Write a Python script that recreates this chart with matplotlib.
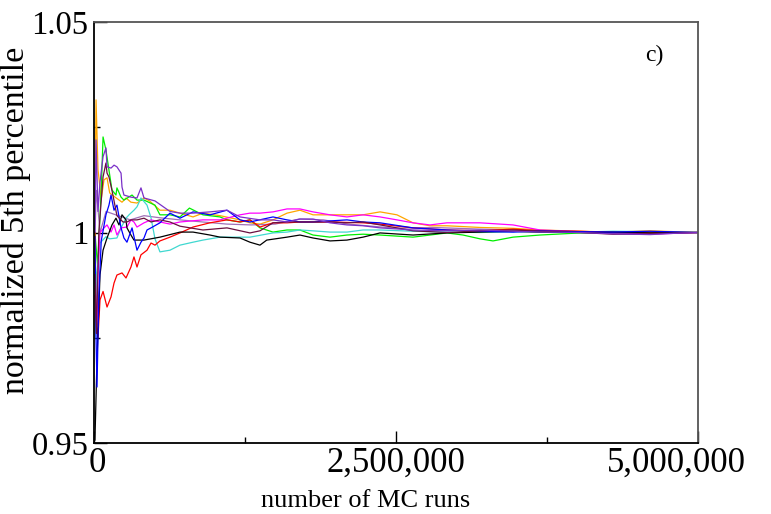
import numpy as np
import matplotlib
matplotlib.use("Agg")
import matplotlib.pyplot as plt
from matplotlib.ticker import FuncFormatter, FixedLocator
from matplotlib.transforms import ScaledTranslation

plt.rcParams['font.family'] = ['Liberation Serif', 'DejaVu Serif']

# MC runs in millions, normalized 5th percentile
orange_x = [0.008, 0.017, 0.033, 0.06, 0.083, 0.108, 0.13, 0.17, 0.232, 0.265, 0.306, 0.356, 0.414, 0.46, 0.546, 0.629, 0.712, 0.82, 0.902, 1.043, 1.209, 1.291, 1.374, 1.482, 1.598, 1.705, 1.813, 1.954, 2.094, 2.227, 2.368, 2.508, 2.641, 2.781, 2.922, 3.195, 3.469, 3.692, 4.023, 4.296, 4.603, 5.0]
orange_y = [1.005, 1.0315, 1.015, 1.008, 1.0125, 1.013, 1.0094, 1.0085, 1.0072, 1.0082, 1.0072, 1.007, 1.0082, 1.0075, 1.0053, 1.0053, 1.0046, 1.0037, 1.0046, 1.004, 1.003, 1.0023, 1.002, 1.003, 1.0046, 1.0053, 1.0042, 1.0042, 1.0042, 1.0042, 1.0049, 1.0042, 1.0023, 1.0016, 1.0016, 1.0012, 1.001, 1.0006, 1.0003, 1.0001, 1.0004, 1.0]

green_x = [0.008, 0.03, 0.06, 0.075, 0.099, 0.124, 0.149, 0.182, 0.19, 0.224, 0.248, 0.315, 0.356, 0.414, 0.505, 0.546, 0.629, 0.712, 0.79, 0.902, 1.043, 1.101, 1.209, 1.291, 1.374, 1.482, 1.598, 1.705, 1.813, 1.954, 2.094, 2.227, 2.368, 2.641, 2.922, 3.055, 3.195, 3.303, 3.469, 3.692, 4.023, 4.296, 4.603, 5.0]
green_y = [1.0, 0.992, 1.01, 1.0227, 1.0196, 1.0148, 1.0101, 1.0089, 1.0106, 1.0084, 1.0077, 1.0089, 1.0077, 1.0077, 1.0065, 1.0042, 1.0042, 1.0037, 1.0058, 1.0042, 1.0037, 1.003, 1.0025, 1.003, 1.0011, 1.0001, 1.0006, 1.0006, 0.9994, 0.9989, 0.9994, 0.9996, 0.9994, 0.9989, 0.9999, 0.9994, 0.9985, 0.998, 0.9989, 0.9994, 0.9999, 0.9998, 1.0001, 1.0]

violet_x = [0.008, 0.017, 0.033, 0.05, 0.075, 0.099, 0.108, 0.141, 0.166, 0.19, 0.224, 0.232, 0.248, 0.306, 0.356, 0.389, 0.414, 0.505, 0.629, 0.712, 0.82, 0.96, 1.101, 1.209, 1.374, 1.482, 1.598, 1.705, 1.813, 1.954, 2.094, 2.227, 2.368, 2.641, 2.922, 3.195, 3.469, 3.692, 4.023, 4.296, 4.603, 4.8, 5.0]
violet_y = [1.0, 1.022, 1.005, 1.012, 1.018, 1.0201, 1.0156, 1.0153, 1.016, 1.0156, 1.0141, 1.0108, 1.0089, 1.0084, 1.0082, 1.0106, 1.0082, 1.0075, 1.005, 1.0046, 1.0046, 1.0049, 1.0053, 1.0037, 1.003, 1.003, 1.0025, 1.0032, 1.0032, 1.0023, 1.0018, 1.0016, 1.0011, 1.0006, 1.0004, 1.0006, 1.0003, 1.0001, 1.0, 0.9997, 0.9995, 0.9998, 1.0]

maroon_x = [0.008, 0.02, 0.04, 0.075, 0.099, 0.108, 0.124, 0.149, 0.19, 0.24, 0.273, 0.306, 0.356, 0.414, 0.472, 0.546, 0.629, 0.712, 0.902, 1.101, 1.291, 1.374, 1.482, 1.598, 1.705, 1.813, 1.954, 2.094, 2.227, 2.368, 2.508, 2.641, 2.922, 3.195, 3.469, 3.692, 4.023, 4.296, 4.603, 5.0]
maroon_y = [0.99, 0.976, 1.0, 1.0132, 1.0165, 1.0141, 1.0132, 1.01, 1.004, 1.0025, 1.0025, 1.003, 1.003, 1.0034, 1.0025, 1.003, 1.0025, 1.0015, 1.0006, 1.0011, 0.9999, 1.0004, 1.0023, 1.0025, 1.0025, 1.0025, 1.0025, 1.0023, 1.0025, 1.0018, 1.0011, 1.0004, 1.0, 1.0004, 1.0006, 1.0003, 1.0, 0.9996, 0.9997, 1.0]

blue_x = [0.008, 0.017, 0.025, 0.04, 0.06, 0.099, 0.124, 0.141, 0.166, 0.19, 0.224, 0.248, 0.273, 0.315, 0.356, 0.389, 0.414, 0.439, 0.472, 0.546, 0.629, 0.712, 0.82, 0.96, 1.101, 1.209, 1.291, 1.482, 1.598, 1.705, 1.813, 2.094, 2.227, 2.368, 2.641, 2.922, 3.195, 3.469, 3.692, 4.023, 4.296, 4.603, 5.0]
blue_y = [0.999, 0.975, 0.9633, 0.985, 0.998, 1.0042, 1.0065, 1.0089, 1.0053, 1.0065, 1.0011, 0.9987, 0.9977, 1.0011, 0.9958, 0.9977, 0.9987, 1.0006, 1.0011, 1.0023, 1.0046, 1.0034, 1.0049, 1.0042, 1.0053, 1.003, 1.0025, 1.0037, 1.003, 1.0025, 1.0025, 1.003, 1.0025, 1.0023, 1.0011, 1.0006, 1.0003, 1.0001, 1.0004, 1.0002, 1.0001, 1.0003, 1.0]

magenta_x = [0.008, 0.025, 0.033, 0.05, 0.083, 0.108, 0.141, 0.166, 0.19, 0.224, 0.273, 0.306, 0.331, 0.356, 0.414, 0.472, 0.546, 0.629, 0.712, 0.902, 1.043, 1.209, 1.291, 1.374, 1.482, 1.598, 1.705, 1.813, 1.954, 2.094, 2.227, 2.368, 2.508, 2.641, 2.781, 2.922, 3.195, 3.469, 3.692, 4.023, 4.296, 4.603, 5.0]
magenta_y = [0.985, 0.978, 0.99, 1.0, 1.0011, 1.0018, 1.0001, 1.0018, 0.9994, 1.0011, 1.0013, 1.003, 1.0025, 1.0013, 1.0023, 1.003, 1.0025, 1.002, 1.0025, 1.003, 1.003, 1.0042, 1.0046, 1.0046, 1.0049, 1.0056, 1.0056, 1.0049, 1.0042, 1.0037, 1.0042, 1.0037, 1.003, 1.0023, 1.0018, 1.0023, 1.0023, 1.0018, 1.0006, 1.0002, 1.0, 0.9996, 1.0]

cyan_x = [0.008, 0.02, 0.05, 0.099, 0.13, 0.19, 0.224, 0.265, 0.29, 0.331, 0.356, 0.389, 0.439, 0.472, 0.505, 0.546, 0.629, 0.712, 0.82, 0.902, 1.043, 1.209, 1.291, 1.482, 1.598, 1.705, 1.813, 1.954, 2.094, 2.227, 2.368, 2.641, 2.922, 3.195, 3.469, 3.692, 4.023, 4.296, 4.603, 5.0]
cyan_y = [0.975, 0.99, 0.9975, 0.999, 0.9985, 0.9987, 1.0011, 1.0034, 1.0042, 1.0053, 1.0061, 1.0082, 1.0065, 1.0035, 0.9985, 0.9954, 0.9958, 0.997, 0.9977, 0.9982, 0.9989, 0.9989, 0.9989, 0.9999, 1.0001, 1.0006, 1.0004, 1.0001, 1.0001, 1.0006, 1.0006, 1.0003, 1.0001, 1.0, 1.0002, 1.0001, 1.0001, 1.0003, 1.0002, 1.0]

black_x = [0.008, 0.025, 0.05, 0.075, 0.108, 0.149, 0.182, 0.207, 0.232, 0.265, 0.273, 0.306, 0.331, 0.414, 0.546, 0.712, 0.82, 0.96, 1.043, 1.209, 1.291, 1.374, 1.43, 1.598, 1.705, 1.813, 1.954, 2.094, 2.227, 2.368, 2.641, 2.922, 3.195, 3.469, 3.692, 4.023, 4.296, 4.603, 5.0]
black_y = [0.9507, 0.97, 0.99, 0.9958, 0.9987, 1.0018, 1.0034, 1.0018, 1.0042, 1.003, 1.0011, 0.9994, 0.9982, 0.9982, 0.9989, 1.0001, 1.0001, 0.9994, 0.9989, 0.9987, 0.9977, 0.997, 0.9982, 0.9989, 0.9994, 0.9987, 0.998, 0.9982, 0.9989, 0.9999, 0.9994, 0.9999, 1.0001, 1.0003, 1.0001, 1.0, 1.0001, 0.9999, 1.0]

red_x = [0.008, 0.017, 0.033, 0.05, 0.075, 0.108, 0.141, 0.166, 0.19, 0.232, 0.265, 0.306, 0.331, 0.356, 0.389, 0.439, 0.472, 0.505, 0.546, 0.629, 0.712, 0.82, 0.96, 1.101, 1.209, 1.291, 1.374, 1.482, 1.598, 1.705, 1.954, 2.227, 2.368, 2.641, 2.922, 3.195, 3.469, 3.692, 4.023, 4.296, 4.603, 5.0]
red_y = [1.0, 0.98, 0.975, 0.984, 0.986, 0.9823, 0.9847, 0.988, 0.9899, 0.9904, 0.9892, 0.9918, 0.9942, 0.9918, 0.9947, 0.9958, 0.9975, 0.997, 0.998, 0.9989, 0.9999, 1.0013, 1.0023, 1.003, 1.0025, 1.003, 1.0013, 1.0023, 1.0023, 1.0025, 1.0025, 1.0023, 1.002, 1.0011, 1.0006, 1.0004, 1.0008, 1.0004, 1.0003, 1.0, 1.0001, 1.0]

plum_x = [0.008, 0.02, 0.05, 0.1, 0.2, 0.3, 0.414, 0.546, 0.712, 0.9, 1.1, 1.3, 1.5, 1.7, 1.9, 2.1, 2.3, 2.5, 2.8, 3.2, 3.5, 3.8, 4.2, 4.5, 4.8, 5.0]
plum_y = [1.0, 1.01, 1.0, 1.005, 1.004, 1.003, 1.004, 1.0035, 1.003, 1.0025, 1.002, 1.0018, 1.002, 1.0032, 1.003, 1.002, 1.0015, 1.001, 1.0012, 1.0008, 1.0006, 1.0003, 0.9998, 0.9996, 1.0, 1.0]

series = [
    (orange_x, orange_y, '#ffa500'),
    (green_x, green_y, '#00ee00'),
    (plum_x, plum_y, '#a070b8'),
    (cyan_x, cyan_y, '#40d8d0'),
    (magenta_x, magenta_y, '#ff00ff'),
    (red_x, red_y, '#ff0000'),
    (black_x, black_y, '#000000'),
    (blue_x, blue_y, '#0000ff'),
    (maroon_x, maroon_y, '#6a1040'),
    (violet_x, violet_y, '#7a30c8'),
]

fig = plt.figure(figsize=(7.71, 5.14), dpi=100)
ax = fig.add_axes([0.1219, 0.1381, 0.7834, 0.8191])

for xs, ys, c in series:
    ax.plot(np.array(xs) * 1e6, ys, color=c, lw=0.9)

ax.set_xlim(0, 5e6)
ax.set_ylim(0.95, 1.05)

ax.xaxis.set_major_locator(FixedLocator([0, 2.5e6, 5e6]))
ax.xaxis.set_minor_locator(FixedLocator([1.25e6, 3.75e6]))
ax.xaxis.set_major_formatter(FuncFormatter(lambda v, p: f"{int(v):,}"))
ax.yaxis.set_major_locator(FixedLocator([0.95, 1.0, 1.05]))
ax.yaxis.set_minor_locator(FixedLocator([0.975, 1.025]))
ax.yaxis.set_major_formatter(FuncFormatter(lambda v, p: {0.95: "0.95", 1.0: "1", 1.05: "1.05"}.get(round(v, 3), "")))

ax.tick_params(which='both', direction='in', top=False, right=False, width=1.0)
ax.tick_params(which='major', length=9)
ax.tick_params(which='minor', length=4.5)
ax.tick_params(axis='x', which='major', labelsize=25, pad=3)
ax.tick_params(axis='y', which='major', labelsize=23.5, pad=4)

# last x label sits a bit left of its tick, as in the original
fig.canvas.draw()
xlabels = ax.get_xticklabels()
xlabels[0].set_transform(xlabels[0].get_transform() + ScaledTranslation(0.03, 0, fig.dpi_scale_trans))
xlabels[-1].set_transform(xlabels[-1].get_transform() + ScaledTranslation(-0.22, 0, fig.dpi_scale_trans))

for s in ax.spines.values():
    s.set_linewidth(1.3)
ax.spines['right'].set_color('#555555')
ax.spines['top'].set_color('#555555')

ax.set_xlabel("number of MC runs", fontsize=19, labelpad=0)
ax.xaxis.set_label_coords(0.45, -0.112, transform=ax.transAxes)
ax.set_ylabel("normalized 5th percentile", fontsize=24.5, labelpad=0)
ax.yaxis.set_label_coords(-0.104, 0.53, transform=ax.transAxes)
ax.text(4.64e6, 1.042, "c)", fontsize=17, ha='center', va='center')

fig.savefig("out.png", dpi=100)
